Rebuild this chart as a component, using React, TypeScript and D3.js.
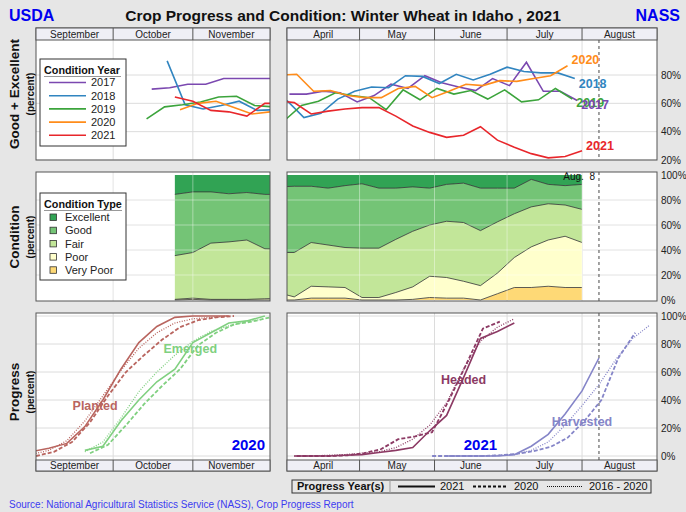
import React from 'react';
import * as d3 from 'd3';

type Pt = [string, number];
type CondRow = [string, number, number, number, number, number];

const parseMD = d3.timeParse('%m-%d');
const md = (s: string) => parseMD(s) as Date;

const FONT = '"Liberation Sans", Arial, Helvetica, sans-serif';

// ---- condition years (good + excellent) ----
const conditionYears = ['2017', '2018', '2019', '2020', '2021'];
const conditionYearColors = ['#7b48b0', '#3185c0', '#3ca43c', '#ff8c1a', '#e8262b'];
const yearLabelDy = [4, 5, 3, -6, -5];

const ge2017Fall: Pt[] = [['10-16', 70], ['10-23', 71], ['10-30', 73.5], ['11-06', 73.5], ['11-13', 77.5], ['11-20', 77.5], ['11-27', 77.5], ['12-04', 77.5]];
const ge2018Fall: Pt[] = [['10-22', 90], ['10-29', 59], ['11-05', 56], ['11-12', 58.5], ['11-19', 61.5], ['11-26', 55], ['12-03', 55.5]];
const ge2019Fall: Pt[] = [['10-14', 49], ['10-21', 57.5], ['10-28', 59], ['11-04', 61], ['11-11', 64.5], ['11-18', 65], ['11-25', 58.5], ['12-02', 57.5]];
const ge2020Fall: Pt[] = [['10-27', 55.5], ['11-03', 60], ['11-10', 61.5], ['11-17', 57], ['11-24', 52.5], ['12-01', 54]];
const ge2021Fall: Pt[] = [['10-25', 64.5], ['11-01', 61.5], ['11-08', 55], ['11-15', 54], ['11-22', 51], ['11-29', 60], ['12-06', 60]];

const ge2017Spring: Pt[] = [['04-02', 66.5], ['04-09', 66.5], ['04-16', 68.5], ['04-23', 67.5], ['04-30', 61], ['05-07', 65.5], ['05-14', 73.5], ['05-21', 70.5], ['05-28', 79.5], ['06-04', 74.5], ['06-11', 71.5], ['06-18', 69], ['06-25', 77.5], ['07-02', 72.5], ['07-09', 89], ['07-16', 68.5], ['07-23', 68.5], ['07-30', 62]];
const ge2018Spring: Pt[] = [['04-01', 62], ['04-08', 50], ['04-15', 53], ['04-22', 63], ['04-29', 68.5], ['05-06', 71.5], ['05-13', 71], ['05-20', 79.5], ['05-27', 79], ['06-03', 74], ['06-10', 80.5], ['06-17', 76.5], ['06-24', 80.5], ['07-01', 85.5], ['07-08', 82.5], ['07-15', 81.5], ['07-22', 81.5], ['07-29', 77.5]];
const ge2019Spring: Pt[] = [['03-31', 48], ['04-07', 58.5], ['04-14', 61.5], ['04-21', 67.5], ['04-28', 65.5], ['05-05', 64], ['05-12', 55.5], ['05-19', 69.5], ['05-26', 62.5], ['06-02', 70.5], ['06-09', 66.5], ['06-16', 69], ['06-23', 63], ['06-30', 69.5], ['07-07', 61], ['07-14', 62.5], ['07-21', 70.5], ['07-28', 63]];
const ge2020Spring: Pt[] = [['03-29', 80], ['04-05', 80.5], ['04-12', 68.5], ['04-19', 69], ['04-26', 65.5], ['05-03', 64], ['05-10', 64], ['05-17', 70.5], ['05-24', 72], ['05-31', 64], ['06-07', 68.5], ['06-14', 73.5], ['06-21', 72.5], ['06-28', 76], ['07-05', 75.5], ['07-12', 77.5], ['07-19', 79.5], ['07-26', 86.5]];
const ge2021Spring: Pt[] = [['03-28', 62], ['04-04', 60.5], ['04-11', 52.5], ['04-18', 54.5], ['04-25', 56], ['05-02', 57], ['05-09', 57], ['05-16', 51], ['05-23', 44], ['05-30', 39.5], ['06-06', 36], ['06-13', 37.5], ['06-20', 43.5], ['06-27', 34], ['07-04', 29], ['07-11', 24.5], ['07-18', 21.5], ['07-25', 22.5], ['08-01', 26.5]];

const geFall = [ge2017Fall, ge2018Fall, ge2019Fall, ge2020Fall, ge2021Fall];
const geSpring = [ge2017Spring, ge2018Spring, ge2019Spring, ge2020Spring, ge2021Spring];

// ---- condition types: [date, very poor, poor, fair, good, excellent] ----
const conditionTypes = ['Excellent', 'Good', 'Fair', 'Poor', 'Very Poor'];
const conditionColors = ['#31a354', '#74c476', '#c2e699', '#ffffcc', '#fed976'];
const condFall: CondRow[] = [
    ['10-25', 0, 0.5, 35, 49, 15.5],
    ['11-01', 0.5, 1, 36.5, 48.5, 13.5],
    ['11-08', 0, 0.5, 45, 41, 13.5],
    ['11-15', 0, 0.5, 46, 38.5, 15],
    ['11-22', 0, 0.5, 47.5, 38, 14],
    ['11-29', 0, 1, 40, 43.5, 15.5],
    ['12-06', 0, 1.5, 39, 44, 15.5],
];
const condSpring: CondRow[] = [
    ['03-28', 0, 6, 32, 52.5, 9.5],
    ['04-04', 0, 2.5, 35.5, 53, 9],
    ['04-11', 1.5, 9.5, 35, 45, 9],
    ['04-18', 1.5, 9, 33.5, 45.5, 10.5],
    ['04-25', 1.5, 8.5, 32, 49.5, 8.5],
    ['05-02', 0, 2, 39.5, 51.5, 7],
    ['05-09', 0, 2, 39.5, 48, 10.5],
    ['05-16', 0, 6, 42.5, 41, 10.5],
    ['05-23', 0.5, 10, 44.5, 35.5, 9.5],
    ['05-30', 2, 17, 41, 29.5, 10.5],
    ['06-06', 1.5, 16.5, 45, 29.5, 7.5],
    ['06-13', 1.5, 13.5, 47, 31.5, 6.5],
    ['06-20', 0, 11.5, 44, 34, 10.5],
    ['06-27', 5, 16.5, 41, 27, 10.5],
    ['07-04', 10, 24, 35, 20.5, 10.5],
    ['07-11', 10, 32.5, 32, 22, 3.5],
    ['07-18', 11, 37, 29, 15.5, 7.5],
    ['07-25', 10, 41, 25, 15.5, 8.5],
    ['08-01', 10, 36, 26.5, 20, 7.5],
];

// ---- progress ----
const planted2021: Pt[] = [['08-30', 3], ['09-06', 5.5], ['09-13', 9], ['09-20', 21], ['09-27', 40], ['10-04', 62], ['10-11', 81], ['10-18', 92.5], ['10-25', 99], ['11-01', 100], ['11-08', 100], ['11-15', 100]];
const planted2020: Pt[] = [['09-01', 0], ['09-08', 3], ['09-15', 10], ['09-22', 24], ['09-29', 43], ['10-06', 60], ['10-13', 72], ['10-20', 83], ['10-27', 92], ['11-03', 97], ['11-10', 99], ['11-17', 100]];
const plantedAvg: Pt[] = [['08-30', 1], ['09-06', 4], ['09-13', 11], ['09-20', 25], ['09-27', 43], ['10-04', 61], ['10-11', 77], ['10-18', 88], ['10-25', 95], ['11-01', 98], ['11-08', 99], ['11-15', 100]];
const emerged2021: Pt[] = [['09-20', 4], ['09-27', 7], ['10-04', 25], ['10-11', 40], ['10-18', 53], ['10-25', 62], ['11-01', 81], ['11-08', 88], ['11-15', 95], ['11-22', 96.5], ['11-29', 100]];
const emerged2020: Pt[] = [['09-22', 2], ['09-29', 8], ['10-06', 22], ['10-13', 37], ['10-20', 50], ['10-27', 62], ['11-03', 79], ['11-10', 88], ['11-17', 94], ['11-24', 96], ['12-01', 99]];
const emergedAvg: Pt[] = [['09-20', 3], ['09-27', 10], ['10-04', 27], ['10-11', 46], ['10-18', 60], ['10-25', 72], ['11-01', 82], ['11-08', 89], ['11-15', 93], ['11-22', 96], ['11-29', 98]];
const headed2021: Pt[] = [['04-04', 0], ['04-11', 0], ['04-18', 0], ['04-25', 0.5], ['05-02', 1], ['05-09', 2.5], ['05-16', 4], ['05-23', 6], ['05-30', 18], ['06-06', 29], ['06-13', 56], ['06-20', 84], ['06-27', 89], ['07-04', 95]];
const headed2020: Pt[] = [['04-05', 0], ['04-12', 0], ['04-19', 0], ['04-26', 0.5], ['05-03', 2], ['05-10', 5], ['05-17', 12], ['05-24', 14], ['05-31', 17], ['06-07', 40], ['06-14', 65], ['06-21', 91], ['06-28', 96]];
const headedAvg: Pt[] = [['04-04', 0], ['04-11', 0], ['04-18', 0.5], ['04-25', 1], ['05-02', 2], ['05-09', 3], ['05-16', 6], ['05-23', 12], ['05-30', 22], ['06-06', 38], ['06-13', 62], ['06-20', 82], ['06-27', 92], ['07-04', 98]];
const harvested2021: Pt[] = [['06-06', 0], ['06-13', 0], ['06-20', 0], ['06-27', 0], ['07-04', 1], ['07-11', 7], ['07-18', 15.5], ['07-25', 30], ['08-01', 46.5], ['08-08', 70]];
const harvested2020: Pt[] = [['05-31', 0], ['06-07', 0], ['06-14', 0], ['06-21', 0], ['06-28', 0.5], ['07-05', 1.5], ['07-12', 3.5], ['07-19', 6.5], ['07-26', 13], ['08-02', 25], ['08-09', 40], ['08-16', 70], ['08-23', 88]];
const harvestedAvg: Pt[] = [['06-06', 0], ['06-13', 0], ['06-20', 0], ['06-27', 0.5], ['07-04', 1], ['07-11', 4], ['07-18', 10], ['07-25', 22], ['08-01', 36], ['08-08', 51], ['08-15', 69], ['08-22', 84], ['08-29', 93.5]];

const plantedColor = '#b9655f';
const emergedColor = '#80d080';
const headedColor = '#8c3a64';
const harvestedColor = '#8585c8';

// ---- axes ----
const fallMonthStarts = ['09-01', '10-01', '11-01', '12-01'];
const fallMonthNames = ['September', 'October', 'November'];
const springMonthStarts = ['04-01', '05-01', '06-01', '07-01', '08-01', '09-01'];
const springMonthNames = ['April', 'May', 'June', 'July', 'August'];
const geTicks = [20, 40, 60, 80];
const pctTicks = [0, 20, 40, 60, 80, 100];
const latestDate = '08-08';
const progressYears = ['2021', '2020', '2016 - 2020'];

// layout
const LX0 = 36, LX1 = 270, RX0 = 287, RX1 = 657;
const TOP_H0 = 28, TOP_Y0 = 40, TOP_Y1 = 160;
const MID_Y0 = 172, MID_Y1 = 301;
const BOT_Y0 = 313, BOT_Y1 = 460, BOT_H1 = 471;

const xFall = d3.scaleTime().domain([md('09-01'), md('12-01')]).range([LX0, LX1]);
const xSpring = d3.scaleTime().domain([md('04-01'), md('09-01')]).range([RX0, RX1]);
const yGE = d3.scaleLinear().domain([20, 80]).range([160, 75]);
const yCond = d3.scaleLinear().domain([0, 100]).range([300, 175]);
const yProg = d3.scaleLinear().domain([0, 100]).range([456, 316]);

type XS = d3.ScaleTime<number, number>;
type YS = d3.ScaleLinear<number, number>;

const linePath = (x: XS, y: YS, pts: Pt[]) =>
    d3.line<Pt>().x(p => x(md(p[0]))).y(p => y(p[1]))(pts) || '';

const Grid = ({ x, y, starts, ticks, y0, y1, stroke, opacity }: { x: XS; y: YS; starts: string[]; ticks: number[]; y0: number; y1: number; stroke: string; opacity: number }) => {
    const [x0, x1] = x.range();
    return (
        <g stroke={stroke} strokeOpacity={opacity} strokeWidth={1}>
            {starts.slice(1, -1).map(s => (
                <line key={s} x1={x(md(s))} x2={x(md(s))} y1={y0} y2={y1} />
            ))}
            {ticks.map(t => (
                <line key={t} x1={x0} x2={x1} y1={y(t)} y2={y(t)} />
            ))}
        </g>
    );
};

const MonthStrip = ({ x, starts, names, y0, y1 }: { x: XS; starts: string[]; names: string[]; y0: number; y1: number }) => {
    const [x0, x1] = x.range();
    return (
        <g>
            <rect x={x0} y={y0} width={x1 - x0} height={y1 - y0} fill='#efeff6' stroke='#555' />
            {starts.slice(1, -1).map(s => (
                <line key={s} x1={x(md(s))} x2={x(md(s))} y1={y0} y2={y1} stroke='#555' />
            ))}
            {names.map((n, i) => (
                <text key={n} x={(x(md(starts[i])) + x(md(starts[i + 1]))) / 2} y={(y0 + y1) / 2} dy='0.36em' textAnchor='middle' fontSize={10} fill='#222'>
                    {n}
                </text>
            ))}
        </g>
    );
};

const Frame = ({ x, y0, y1 }: { x: XS; y0: number; y1: number }) => {
    const [x0, x1] = x.range();
    return <rect x={x0} y={y0} width={x1 - x0} height={y1 - y0} fill='none' stroke='#555' />;
};

const RightAxis = ({ y, ticks }: { y: YS; ticks: number[] }) => (
    <g fontSize={10} fill='#222'>
        {ticks.map(t => (
            <text key={t} x={RX1 + 4} y={y(t)} dy='0.36em'>{`${t}%`}</text>
        ))}
    </g>
);

const YTitle = ({ cy, label }: { cy: number; label: string }) => (
    <g>
        <text transform={`translate(19,${cy}) rotate(-90)`} textAnchor='middle' fontSize={13.5} fontWeight='bold' fill='#111'>{label}</text>
        <text transform={`translate(34,${cy}) rotate(-90)`} textAnchor='middle' fontSize={10} fontWeight='bold' fill='#111'>(percent)</text>
    </g>
);

const CondStack = ({ x, rows }: { x: XS; rows: CondRow[] }) => {
    const data = rows.map(r => ({ date: md(r[0]), vp: r[1], p: r[2], f: r[3], g: r[4], e: r[5] }));
    const keys = ['vp', 'p', 'f', 'g', 'e'];
    const series = d3.stack<any>().keys(keys)(data);
    const area = d3.area<any>().x(d => x(d.data.date)).y0(d => yCond(d[0])).y1(d => yCond(d[1]));
    const edge = d3.line<any>().x(d => x(d.data.date)).y(d => yCond(d[1]));
    const colorOf = (i: number) => conditionColors[4 - i];
    return (
        <g>
            {series.map((s, i) => (
                <path key={s.key} d={area(s) || ''} fill={colorOf(i)} />
            ))}
            {series.slice(0, 4).map(s => (
                <path key={s.key} d={edge(s) || ''} fill='none' stroke='#333' strokeWidth={0.8} />
            ))}
        </g>
    );
};

const ProgressLines = ({ x, color, solid, dashed, dotted }: { x: XS; color: string; solid: Pt[]; dashed: Pt[]; dotted: Pt[] }) => (
    <g fill='none' stroke={color}>
        <path d={linePath(x, yProg, dotted)} strokeWidth={1.3} strokeDasharray='1,1.5' />
        <path d={linePath(x, yProg, dashed)} strokeWidth={1.8} strokeDasharray='4,2' />
        <path d={linePath(x, yProg, solid)} strokeWidth={1.6} />
    </g>
);

export default function App() {
    const aug8 = xSpring(md(latestDate));
    const labelOrder = [1, 2, 0, 3, 4];
    return (
        <svg width={686} height={512} style={{ position: 'absolute', left: 0, top: 0 }} fontFamily={FONT}>
            <defs>
                <clipPath id='clipTL'><rect x={LX0} y={TOP_Y0} width={LX1 - LX0} height={TOP_Y1 - TOP_Y0} /></clipPath>
                <clipPath id='clipTR'><rect x={RX0} y={TOP_Y0} width={RX1 - RX0} height={TOP_Y1 - TOP_Y0} /></clipPath>
                <clipPath id='clipML'><rect x={LX0} y={MID_Y0} width={LX1 - LX0} height={MID_Y1 - MID_Y0} /></clipPath>
                <clipPath id='clipMR'><rect x={RX0} y={MID_Y0} width={RX1 - RX0} height={MID_Y1 - MID_Y0} /></clipPath>
                <clipPath id='clipBL'><rect x={LX0} y={BOT_Y0} width={LX1 - LX0} height={BOT_Y1 - BOT_Y0} /></clipPath>
                <clipPath id='clipBR'><rect x={RX0} y={BOT_Y0} width={RX1 - RX0} height={BOT_Y1 - BOT_Y0} /></clipPath>
            </defs>
            <rect width={686} height={512} fill='#e6e6e6' />

            {/* titles */}
            <text x={9} y={21} fontSize={16} fontWeight='bold' fill='#0000f0'>USDA</text>
            <text x={680} y={21} fontSize={16} fontWeight='bold' fill='#0000f0' textAnchor='end'>NASS</text>
            <text x={343} y={21} fontSize={15.5} fontWeight='bold' fill='#111' textAnchor='middle'>
                Crop Progress and Condition: Winter Wheat in Idaho , 2021
            </text>

            <YTitle cy={94} label='Good + Excellent' />
            <YTitle cy={237} label='Condition' />
            <YTitle cy={392} label='Progress' />

            {/* ---- top: good + excellent ---- */}
            {[xFall, xSpring].map((x, k) => (
                <g key={k}>
                    <rect x={x.range()[0]} y={TOP_Y0} width={x.range()[1] - x.range()[0]} height={TOP_Y1 - TOP_Y0} fill='#fff' />
                    <Grid x={x} y={yGE} starts={k ? springMonthStarts : fallMonthStarts} ticks={geTicks} y0={TOP_Y0} y1={TOP_Y1} stroke='#dcdcdc' opacity={1} />
                </g>
            ))}
            <line x1={aug8} x2={aug8} y1={TOP_Y0} y2={TOP_Y1} stroke='#666' strokeWidth={1.2} strokeDasharray='3,3' />
            <g clipPath='url(#clipTL)' fill='none' strokeWidth={1.6}>
                {geFall.map((pts, i) => (
                    <path key={i} d={linePath(xFall, yGE, pts)} stroke={conditionYearColors[i]} />
                ))}
            </g>
            <g clipPath='url(#clipTR)' fill='none' strokeWidth={1.6}>
                {geSpring.map((pts, i) => (
                    <path key={i} d={linePath(xSpring, yGE, pts)} stroke={conditionYearColors[i]} />
                ))}
            </g>
            {labelOrder.map(i => {
                const last = geSpring[i][geSpring[i].length - 1];
                return (
                    <text key={i} x={xSpring(md(last[0])) + 4} y={yGE(last[1]) + yearLabelDy[i]} dy='0.36em' fontSize={12.5} fontWeight='bold' fill={conditionYearColors[i]}>
                        {conditionYears[i]}
                    </text>
                );
            })}
            <Frame x={xFall} y0={TOP_H0} y1={TOP_Y1} />
            <Frame x={xSpring} y0={TOP_H0} y1={TOP_Y1} />
            <MonthStrip x={xFall} starts={fallMonthStarts} names={fallMonthNames} y0={TOP_H0} y1={TOP_Y0} />
            <MonthStrip x={xSpring} starts={springMonthStarts} names={springMonthNames} y0={TOP_H0} y1={TOP_Y0} />
            <RightAxis y={yGE} ticks={geTicks} />

            {/* condition year legend */}
            <g>
                <rect x={40} y={59} width={86} height={87} fill='#fff' stroke='#333' />
                <text x={44} y={74} fontSize={10.8} fontWeight='bold' fill='#111'>Condition Year</text>
                <line x1={44} x2={121} y1={76.5} y2={76.5} stroke='#999' />
                {conditionYears.map((yr, i) => (
                    <g key={yr}>
                        <line x1={49} x2={86} y1={82.5 + i * 13.2} y2={82.5 + i * 13.2} stroke={conditionYearColors[i]} strokeWidth={1.6} />
                        <text x={91} y={82.5 + i * 13.2} dy='0.36em' fontSize={11} fill='#222'>{yr}</text>
                    </g>
                ))}
            </g>

            {/* ---- middle: condition ---- */}
            {[xFall, xSpring].map((x, k) => (
                <g key={k}>
                    <rect x={x.range()[0]} y={MID_Y0} width={x.range()[1] - x.range()[0]} height={MID_Y1 - MID_Y0} fill='#fff' />
                    <Grid x={x} y={yCond} starts={k ? springMonthStarts : fallMonthStarts} ticks={pctTicks.slice(1, 5)} y0={MID_Y0} y1={MID_Y1} stroke='#dcdcdc' opacity={1} />
                </g>
            ))}
            <g clipPath='url(#clipML)'><CondStack x={xFall} rows={condFall} /></g>
            <g clipPath='url(#clipMR)'><CondStack x={xSpring} rows={condSpring} /></g>
            <g clipPath='url(#clipML)'>
                <Grid x={xFall} y={yCond} starts={fallMonthStarts} ticks={pctTicks.slice(1, 5)} y0={MID_Y0} y1={MID_Y1} stroke='#ffffff' opacity={0.4} />
            </g>
            <g clipPath='url(#clipMR)'>
                <Grid x={xSpring} y={yCond} starts={springMonthStarts} ticks={pctTicks.slice(1, 5)} y0={MID_Y0} y1={MID_Y1} stroke='#ffffff' opacity={0.4} />
            </g>
            <line x1={aug8} x2={aug8} y1={MID_Y0} y2={MID_Y1} stroke='#666' strokeWidth={1.2} strokeDasharray='3,3' />
            <text x={aug8 - 4} y={yCond(100) + 5} fontSize={10} textAnchor='end' fill='#111' style={{ whiteSpace: 'pre' }}>Aug.  8</text>
            <Frame x={xFall} y0={MID_Y0} y1={MID_Y1} />
            <Frame x={xSpring} y0={MID_Y0} y1={MID_Y1} />
            <RightAxis y={yCond} ticks={pctTicks} />

            {/* condition type legend */}
            <g>
                <rect x={40} y={193} width={86} height={87} fill='#fff' stroke='#333' />
                <text x={44} y={208} fontSize={10.8} fontWeight='bold' fill='#111'>Condition Type</text>
                <line x1={44} x2={122} y1={210.5} y2={210.5} stroke='#999' />
                {conditionTypes.map((c, i) => (
                    <g key={c}>
                        <rect x={50} y={214 + i * 13.2} width={6.5} height={6.5} fill={conditionColors[i]} stroke='#333' strokeWidth={0.8} />
                        <text x={65} y={217.3 + i * 13.2} dy='0.36em' fontSize={11} fill='#222'>{c}</text>
                    </g>
                ))}
            </g>

            {/* ---- bottom: progress ---- */}
            {[xFall, xSpring].map((x, k) => (
                <g key={k}>
                    <rect x={x.range()[0]} y={BOT_Y0} width={x.range()[1] - x.range()[0]} height={BOT_Y1 - BOT_Y0} fill='#fff' />
                    <Grid x={x} y={yProg} starts={k ? springMonthStarts : fallMonthStarts} ticks={pctTicks} y0={BOT_Y0} y1={BOT_Y1} stroke='#dcdcdc' opacity={1} />
                </g>
            ))}
            <line x1={aug8} x2={aug8} y1={BOT_Y0} y2={BOT_Y1} stroke='#666' strokeWidth={1.2} strokeDasharray='3,3' />
            <g clipPath='url(#clipBL)'>
                <ProgressLines x={xFall} color={plantedColor} solid={planted2021} dashed={planted2020} dotted={plantedAvg} />
                <ProgressLines x={xFall} color={emergedColor} solid={emerged2021} dashed={emerged2020} dotted={emergedAvg} />
            </g>
            <g clipPath='url(#clipBR)'>
                <ProgressLines x={xSpring} color={headedColor} solid={headed2021} dashed={headed2020} dotted={headedAvg} />
                <ProgressLines x={xSpring} color={harvestedColor} solid={harvested2021} dashed={harvested2020} dotted={harvestedAvg} />
            </g>
            <g fontSize={12.5} fontWeight='bold' textAnchor='middle'>
                <text x={xFall(md('09-24'))} y={yProg(36)} dy='0.36em' fill={plantedColor}>Planted</text>
                <text x={xFall(md('10-31'))} y={yProg(77)} dy='0.36em' fill={emergedColor}>Emerged</text>
                <text x={xSpring(md('06-13'))} y={yProg(55)} dy='0.36em' fill={headedColor}>Headed</text>
                <text x={xSpring(md('08-01'))} y={yProg(24.5)} dy='0.36em' fill={harvestedColor}>Harvested</text>
            </g>
            <text x={LX1 - 5} y={BOT_Y1 - 10} fontSize={15} fontWeight='bold' fill='#0000f0' textAnchor='end'>2020</text>
            <text x={xSpring(md('06-20'))} y={BOT_Y1 - 10} fontSize={15} fontWeight='bold' fill='#0000f0' textAnchor='middle'>2021</text>
            <Frame x={xFall} y0={BOT_Y0} y1={BOT_H1} />
            <Frame x={xSpring} y0={BOT_Y0} y1={BOT_H1} />
            <MonthStrip x={xFall} starts={fallMonthStarts} names={fallMonthNames} y0={BOT_Y1} y1={BOT_H1} />
            <MonthStrip x={xSpring} starts={springMonthStarts} names={springMonthNames} y0={BOT_Y1} y1={BOT_H1} />
            <RightAxis y={yProg} ticks={pctTicks} />

            {/* progress year legend */}
            <g>
                <rect x={292} y={480} width={359} height={13} fill='#e6e6e6' stroke='#333' />
                <text x={297} y={486.5} dy='0.36em' fontSize={11} fontWeight='bold' fill='#111'>Progress Year(s)</text>
                <line x1={390} x2={390} y1={480} y2={493} stroke='#999' />
                <line x1={398} x2={435} y1={486.5} y2={486.5} stroke='#111' strokeWidth={2} />
                <text x={440} y={486.5} dy='0.36em' fontSize={11} fill='#111'>{progressYears[0]}</text>
                <line x1={473} x2={508} y1={486.5} y2={486.5} stroke='#111' strokeWidth={2.2} strokeDasharray='3,2' />
                <text x={514} y={486.5} dy='0.36em' fontSize={11} fill='#111'>{progressYears[1]}</text>
                <line x1={547} x2={583} y1={486.5} y2={486.5} stroke='#111' strokeWidth={1.2} strokeDasharray='1,1' />
                <text x={589} y={486.5} dy='0.36em' fontSize={11} fill='#111'>{progressYears[2]}</text>
            </g>

            <text x={9} y={508} fontSize={10} fill='#3c3cf0'>
                Source: National Agricultural Statistics Service (NASS), Crop Progress Report
            </text>
        </svg>
    );
}
